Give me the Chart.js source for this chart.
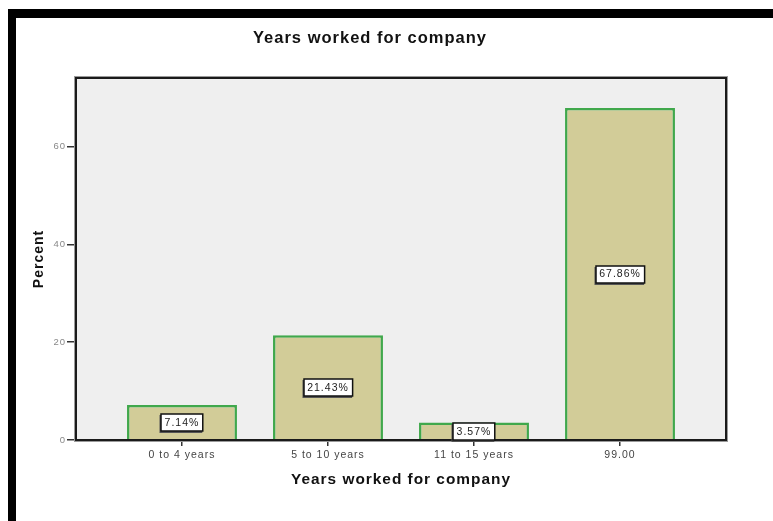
<!DOCTYPE html>
<html>
<head>
<meta charset="utf-8">
<title>Years worked for company</title>
<script src="https://cdn.jsdelivr.net/npm/chart.js@4.4.1/dist/chart.umd.min.js"></script>
<style>
  html, body { margin: 0; padding: 0; background: #fff; }
  #wrap { position: relative; width: 773px; height: 521px; overflow: hidden; }
  #wrap canvas { position: absolute; left: 0; top: 0; }
  /* heavy black frame along the top and left edges */
  #frame {
    position: absolute; left: 8px; top: 9px; right: 0; bottom: 0;
    border-left: 8px solid #000; border-top: 9px solid #000;
    pointer-events: none;
  }
</style>
</head>
<body>
<div id="wrap">
  <canvas id="chart" width="773" height="521"></canvas>
  <div id="frame"></div>
</div>
<script>
// ---- data ----
const categories = ['0 to 4 years', '5 to 10 years', '11 to 15 years', '99.00'];
const percents = [7.14, 21.43, 3.57, 67.86];
const yTicks = [0, 20, 40, 60];
const chartTitle = 'Years worked for company';
const xAxisTitle = 'Years worked for company';
const yAxisTitle = 'Percent';

const FONT = '"Liberation Sans", Arial, sans-serif';

// light grey plot panel behind the bars
const panelPlugin = {
  id: 'panel',
  beforeDraw(chart) {
    const { ctx, chartArea: a } = chart;
    ctx.letterSpacing = '1px';
    ctx.save();
    ctx.fillStyle = '#efefef';
    ctx.fillRect(a.left, a.top, a.right - a.left, a.bottom - a.top);
    ctx.restore();
  },
  afterDatasetsDraw(chart) {
    const { ctx, chartArea: a } = chart;
    ctx.save();
    // soft grey edge around the panel
    ctx.strokeStyle = '#9a9a9a';
    ctx.lineWidth = 1;
    ctx.strokeRect(a.left - 1.5, a.top - 1.5, a.right - a.left + 3, a.bottom - a.top + 3);
    ctx.strokeStyle = '#1a1a1a';
    ctx.lineWidth = 2;
    ctx.strokeRect(a.left, a.top, a.right - a.left, a.bottom - a.top);
    ctx.restore();
  }
};

// boxed percentage labels in the middle of each bar
const valueLabels = {
  id: 'valueLabels',
  afterDatasetsDraw(chart) {
    const { ctx } = chart;
    const yScale = chart.scales.y;
    const meta = chart.getDatasetMeta(0);
    ctx.save();
    ctx.font = '10.5px ' + FONT;
    ctx.textAlign = 'center';
    ctx.textBaseline = 'middle';
    meta.data.forEach((bar, i) => {
      const v = percents[i];
      const text = v.toFixed(2) + '%';
      const cx = bar.x;
      const cy = yScale.getPixelForValue(v / 2);
      const w = ctx.measureText(text).width + 7;
      const h = 17;
      const x0 = Math.round(cx - w / 2), y0 = Math.round(cy - h / 2);
      ctx.fillStyle = '#555';
      ctx.fillRect(x0 - 1.5, y0 + 1, w + 1, h + 1);
      ctx.fillStyle = '#fff';
      ctx.fillRect(x0, y0, w, h);
      ctx.strokeStyle = '#111';
      ctx.lineWidth = 1.5;
      ctx.strokeRect(x0, y0, w, h);
      ctx.fillStyle = '#222';
      ctx.fillText(text, cx, cy + 0.5);
    });
    ctx.restore();
  }
};

// chart heading
const headingPlugin = {
  id: 'heading',
  afterDraw(chart) {
    const { ctx } = chart;
    ctx.save();
    ctx.letterSpacing = '1px';
    ctx.font = 'bold 16.5px ' + FONT;
    ctx.fillStyle = '#111';
    ctx.textAlign = 'center';
    ctx.textBaseline = 'middle';
    ctx.fillText(chartTitle, 370, 38);
    ctx.restore();
  }
};

new Chart(document.getElementById('chart'), {
  type: 'bar',
  data: {
    datasets: [{
      label: yAxisTitle,
      data: percents.map((v, i) => ({ x: i, y: v })),
      backgroundColor: 'rgb(210,204,152)',
      borderColor: 'rgb(64,168,76)',
      borderWidth: 2.5,
      barPercentage: 0.753,
      categoryPercentage: 1
    }]
  },
  options: {
    responsive: false,
    animation: false,
    layout: { padding: { top: 78, right: 47, left: 0, bottom: 0 } },
    plugins: {
      legend: { display: false },
      tooltip: { enabled: false },
      title: { display: false }
    },
    scales: {
      x: {
        type: 'linear',
        offset: false,
        min: -0.726,
        max: 3.726,
        afterBuildTicks: s => { s.ticks = categories.map((_, i) => ({ value: i })); },
        afterFit: s => { s.height = 81; },
        ticks: {
          autoSkip: false,
          maxRotation: 0,
          padding: 3,
          color: '#444',
          font: { family: FONT, size: 10.5 },
          callback: v => categories[v]
        },
        grid: { offset: false, drawOnChartArea: false, drawTicks: true, tickLength: 6, color: '#333', lineWidth: 1.5 },
        border: { display: false },
        title: {
          display: true,
          text: xAxisTitle,
          color: '#111',
          font: { family: FONT, size: 15.4, weight: 'bold' },
          padding: { top: 0, bottom: 32 }
        }
      },
      y: {
        min: 0,
        max: 74,
        afterBuildTicks: s => { s.ticks = yTicks.map(v => ({ value: v })); },
        afterFit: s => { s.width = 76; },
        ticks: {
          padding: 1,
          color: '#888',
          font: { family: FONT, size: 9.5 }
        },
        grid: { drawOnChartArea: false, drawTicks: true, tickLength: 9, color: '#333', lineWidth: 1.5 },
        border: { display: false },
        title: {
          display: true,
          text: yAxisTitle,
          color: '#111',
          font: { family: FONT, size: 14, weight: 'bold' },
          padding: { top: 30.6, bottom: 0 }
        }
      }
    }
  },
  plugins: [panelPlugin, valueLabels, headingPlugin]
});
</script>
</body>
</html>
